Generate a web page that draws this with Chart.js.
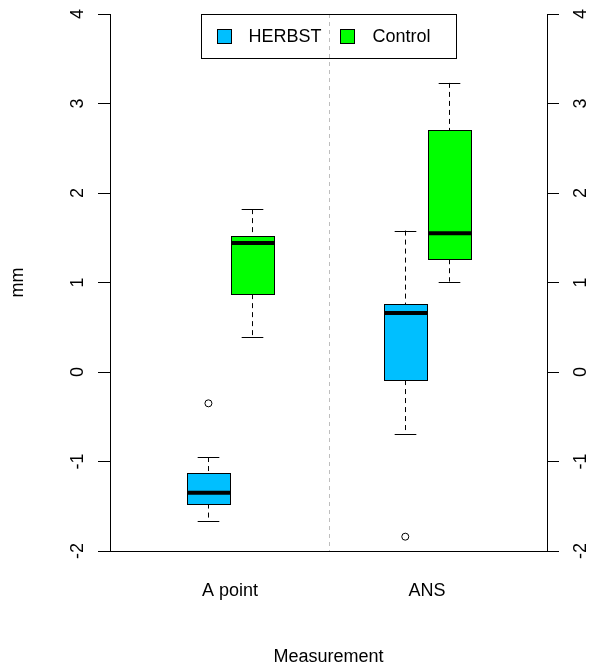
<!DOCTYPE html>
<html>
<head>
<meta charset="utf-8">
<script src="https://cdn.jsdelivr.net/npm/chart.js@4/dist/chart.umd.min.js"></script>
<style>
  html, body { margin: 0; padding: 0; background: #fff; }
</style>
</head>
<body>
<canvas id="boxChart" width="594" height="671"></canvas>
<script>
// data
const categories = ['A point', 'ANS'];
const seriesNames = ['HERBST', 'Control'];
const yTicks = [-2, -1, 0, 1, 2, 3, 4];

const herbstLow = [-1.67, -0.69];
const herbstQ1 = [-1.47, -0.09];
const herbstMedian = [-1.35, 0.66];
const herbstQ3 = [-1.13, 0.76];
const herbstHigh = [-0.95, 1.58];
const herbstOutliers = [[-0.35], [-1.84]];

const controlLow = [0.39, 1.01];
const controlQ1 = [0.87, 1.26];
const controlMedian = [1.44, 1.55];
const controlQ3 = [1.52, 2.70];
const controlHigh = [1.82, 3.23];
const controlOutliers = [[], []];

// layout / style
const seriesOffset = [-0.11, 0.11];
const boxWidth = 0.22;
const dividerAt = 1.5;
const fills = ['#00BFFF', '#00FF00'];
const font = { family: '"Liberation Sans", Arial, sans-serif', size: 18 };

const stats = [
  { low: herbstLow, q1: herbstQ1, med: herbstMedian, q3: herbstQ3, high: herbstHigh, out: herbstOutliers },
  { low: controlLow, q1: controlQ1, med: controlMedian, q3: controlQ3, high: controlHigh, out: controlOutliers }
];

function outlierPoints(si) {
  var pts = [];
  stats[si].out.forEach(function (vals, ci) {
    vals.forEach(function (v) { pts.push({ x: ci + 1 + seriesOffset[si], y: v }); });
  });
  return pts;
}

function hline(ctx, x1, x2, y) {
  y = Math.round(y) + 0.5;
  ctx.beginPath(); ctx.moveTo(x1, y); ctx.lineTo(x2, y); ctx.stroke();
}

const boxPlugin = {
  id: 'boxes',
  beforeDatasetsDraw: function (chart) {
    const ctx = chart.ctx, a = chart.chartArea, x = chart.scales.x, y = chart.scales.y;
    ctx.save();
    // divider between the two measurements
    ctx.strokeStyle = '#bebebe';
    ctx.lineWidth = 1;
    ctx.setLineDash([4, 4]);
    var dx = Math.round(x.getPixelForValue(dividerAt)) + 0.5;
    ctx.beginPath(); ctx.moveTo(dx, a.top); ctx.lineTo(dx, a.bottom); ctx.stroke();

    const half = (x.getPixelForValue(boxWidth) - x.getPixelForValue(0)) / 2;
    stats.forEach(function (s, si) {
      categories.forEach(function (c, ci) {
        var cx = Math.round(x.getPixelForValue(ci + 1 + seriesOffset[si])) + 0.5;
        var yl = y.getPixelForValue(s.low[ci]), y1 = y.getPixelForValue(s.q1[ci]);
        var ym = y.getPixelForValue(s.med[ci]), y3 = y.getPixelForValue(s.q3[ci]);
        var yh = y.getPixelForValue(s.high[ci]);
        ctx.strokeStyle = '#000';
        ctx.lineWidth = 1;
        // whiskers
        ctx.setLineDash([5, 4]);
        ctx.beginPath();
        ctx.moveTo(cx, yh); ctx.lineTo(cx, y3);
        ctx.moveTo(cx, y1); ctx.lineTo(cx, yl);
        ctx.stroke();
        ctx.setLineDash([]);
        hline(ctx, cx - half / 2, cx + half / 2, yh);
        hline(ctx, cx - half / 2, cx + half / 2, yl);
        // box
        var left = Math.round(cx - half) + 0.5, right = Math.round(cx + half) + 0.5;
        var top = Math.round(y3) + 0.5, bottom = Math.round(y1) + 0.5;
        ctx.fillStyle = fills[si];
        ctx.fillRect(left, top, right - left, bottom - top);
        ctx.strokeRect(left, top, right - left, bottom - top);
        // median
        ctx.lineWidth = 4;
        ctx.beginPath(); ctx.moveTo(left, ym); ctx.lineTo(right, ym); ctx.stroke();
      });
    });
    ctx.restore();
  },
  afterDraw: function (chart) {
    const ctx = chart.ctx, a = chart.chartArea, x = chart.scales.x;
    const w = 255, h = 44;
    const lx = Math.round(x.getPixelForValue(dividerAt) - w / 2) + 0.5, ly = Math.round(a.top) + 0.5;
    const keyX = [16, 139], textX = [47, 171];
    ctx.save();
    ctx.strokeStyle = '#000';
    ctx.lineWidth = 1;
    ctx.strokeRect(lx, ly, w, h);
    ctx.font = font.size + 'px ' + font.family;
    ctx.textBaseline = 'middle';
    seriesNames.forEach(function (name, i) {
      ctx.fillStyle = fills[i];
      ctx.fillRect(lx + keyX[i], ly + 15, 14, 14);
      ctx.strokeRect(lx + keyX[i], ly + 15, 14, 14);
      ctx.fillStyle = '#000';
      ctx.fillText(name, lx + textX[i], ly + h / 2 + 1);
    });
    ctx.restore();
  }
};

Chart.defaults.color = '#000';
Chart.defaults.font.family = font.family;
Chart.defaults.font.size = font.size;

function yAxis(pos, width, pad) {
  return {
    type: 'linear',
    position: pos,
    min: yTicks[0],
    max: yTicks[yTicks.length - 1],
    afterBuildTicks: function (s) { s.ticks = yTicks.map(function (v) { return { value: v }; }); },
    afterFit: function (s) { s.width = width; s.paddingTop = 0; s.paddingBottom = 0; },
    ticks: { minRotation: 90, maxRotation: 90, crossAlign: 'center', padding: pad, color: '#000', font: font },
    grid: { drawOnChartArea: false, drawTicks: true, tickLength: 12, color: '#000' },
    border: { color: '#000', width: 1 },
    title: pos === 'left' ? { display: true, text: 'mm', color: '#000', font: font, padding: { top: 7, bottom: 0 } } : { display: false }
  };
}

new Chart(document.getElementById('boxChart'), {
  type: 'scatter',
  data: {
    datasets: seriesNames.map(function (name, si) {
      return {
        label: name,
        data: outlierPoints(si),
        yAxisID: 'y',
        pointRadius: 3.5,
        pointBorderWidth: 1,
        pointBorderColor: '#000',
        pointBackgroundColor: '#fff'
      };
    })
  },
  options: {
    responsive: false,
    animation: false,
    layout: { padding: { top: 14, left: 0, right: 0, bottom: 0 } },
    plugins: { legend: { display: false }, tooltip: { enabled: false } },
    scales: {
      x: {
        type: 'linear',
        min: 0.39,
        max: 2.61,
        afterBuildTicks: function (s) { s.ticks = categories.map(function (c, i) { return { value: i + 1 }; }); },
        afterFit: function (s) { s.height = 120; s.paddingLeft = 0; s.paddingRight = 0; },
        grid: { display: false, drawTicks: false },
        border: { display: true, color: '#000', width: 1 },
        ticks: { padding: 29, maxRotation: 0, autoSkip: false, color: '#000', font: font,
                 callback: function (v) { return categories[v - 1]; } },
        title: { display: true, text: 'Measurement', color: '#000', font: font, padding: { top: 0, bottom: 3 } }
      },
      y: yAxis('left', 110, 12),
      y2: yAxis('right', 47, 14)
    }
  },
  plugins: [boxPlugin]
});
</script>
</body>
</html>
